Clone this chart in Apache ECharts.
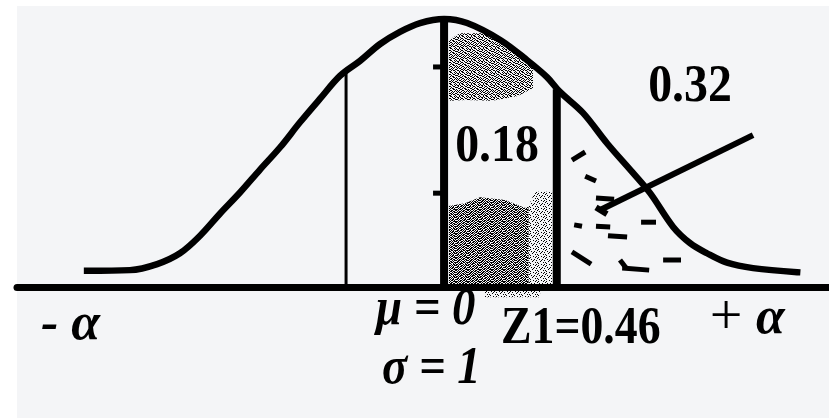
<!DOCTYPE html>
<html>
<head>
<meta charset="utf-8">
<script src="https://cdn.jsdelivr.net/npm/echarts@6/dist/echarts.min.js"></script>
<style>
  html, body { margin: 0; padding: 0; background: #ffffff; }
  #chart { width: 829px; height: 418px; }
</style>
</head>
<body>
<div id="chart"></div>
<script>
// Standard normal curve, traced as (z, height) pairs
const curveZ = [-1.457, -1.282, -1.171, -1.078, -0.996, -0.914, -0.833, -0.751, -0.669, -0.588,
                -0.506, -0.424, -0.343, -0.261, -0.180, -0.098, 0, 0.094, 0.229, 0.339,
                0.420, 0.473, 0.567, 0.665, 0.771, 0.841, 0.935, 1.004, 1.073, 1.155, 1.261, 1.441];
const curveH = [0.024, 0.025, 0.034, 0.050, 0.076, 0.109, 0.140, 0.174, 0.207, 0.244,
                0.279, 0.313, 0.335, 0.360, 0.378, 0.391, 0.397, 0.391, 0.366, 0.336,
                0.311, 0.289, 0.258, 0.213, 0.169, 0.139, 0.089, 0.065, 0.050, 0.036, 0.028, 0.022];

// Vertical markers: reference line, mean (mu = 0) and Z1 = 0.46
const markerZ   = [-0.40, 0, 0.46];
const markerTop = [0.317, 0.397, 0.293];

// Area labels
const areaLabels = ['0.18', '0.32'];

// Shaded patches (z, height) between the mean and Z1
const stippleTop = [[0.020, 0.366], [0.065, 0.376], [0.188, 0.376], [0.249, 0.360], [0.339, 0.335],
                    [0.363, 0.324], [0.363, 0.295], [0.302, 0.283], [0.196, 0.276], [0.090, 0.277], [0.020, 0.276]];
const stippleLow = [[0.020, 0.120], [0.086, 0.124], [0.147, 0.133], [0.249, 0.129], [0.331, 0.117],
                    [0.345, 0.120], [0.345, 0.004], [0.020, 0.004]];
const stippleLowRight = [[0.345, 0.120], [0.371, 0.141], [0.441, 0.141], [0.441, 0.004], [0.345, 0.004]];
const stippleUnder = [[0.167, -0.006], [0.392, -0.006], [0.392, -0.015], [0.167, -0.015]];

// Hatch strokes in the upper tail and the pointer from the 0.32 label
const tailMarks = [
  [0.522, 0.188, 0.576, 0.200],
  [0.576, 0.164, 0.620, 0.157],
  [0.620, 0.132, 0.694, 0.130],
  [0.531, 0.092, 0.563, 0.090],
  [0.620, 0.090, 0.678, 0.089],
  [0.669, 0.076, 0.747, 0.074],
  [0.804, 0.096, 0.865, 0.096],
  [0.522, 0.052, 0.600, 0.034],
  [0.718, 0.040, 0.743, 0.028],
  [0.727, 0.028, 0.837, 0.025],
  [0.894, 0.040, 0.967, 0.040],
  [-0.045, 0.326, -0.012, 0.326],
  [-0.045, 0.139, -0.012, 0.139]
];
const pointer = [[1.261, 0.225, 0.637, 0.114], [0.620, 0.118, 0.665, 0.108]];

// Dither textures for the shaded patches
const ditherDense = [
  '110110010110', '101001101011', '011011010100', '110100101101',
  '001011011010', '110110100111', '101001011001', '010110110110',
  '101101001011', '011010110100', '110101011011', '001011100101'
];
const ditherMid = [
  '100100110010', '011010001001', '001001100110', '110010010001',
  '001100101100', '100011000110', '010100110001', '101001001010',
  '010110010100', '100001101001', '011010010110', '000101100001'
];
const ditherLight = ['10000100', '00100001', '01000000', '00010010', '10000100', '00001000', '01000001', '00100000'];

function makeDither(rows) {
  const c = document.createElement('canvas');
  c.width = rows[0].length;
  c.height = rows.length;
  const g = c.getContext('2d');
  g.fillStyle = '#000';
  rows.forEach((r, y) => r.split('').forEach((ch, x) => { if (ch === '1') g.fillRect(x, y, 1, 1); }));
  return { image: c, repeat: 'repeat' };
}
const fillDense = makeDither(ditherDense);
const fillMid = makeDither(ditherMid);
const fillLight = makeDither(ditherLight);

function patchSeries(points, fill) {
  return {
    type: 'custom', coordinateSystem: 'cartesian2d', silent: true, clip: false, z: 2,
    data: [[points[0][0], points[0][1]]],
    renderItem: (params, api) => ({
      type: 'polygon',
      shape: { points: points.map(p => api.coord(p)) },
      style: { fill: fill, stroke: null }
    })
  };
}

function segmentSeries(segs, width) {
  return {
    type: 'custom', coordinateSystem: 'cartesian2d', silent: true, clip: false, z: 4,
    dimensions: ['x1', 'y1', 'x2', 'y2'],
    encode: { x: [0, 2], y: [1, 3] },
    data: segs,
    renderItem: (params, api) => {
      const a = api.coord([api.value(0), api.value(1)]);
      const b = api.coord([api.value(2), api.value(3)]);
      return {
        type: 'line',
        shape: { x1: a[0], y1: a[1], x2: b[0], y2: b[1] },
        style: { stroke: '#000', lineWidth: width, lineCap: 'butt' }
      };
    }
  };
}

const markerWidths = [3, 8, 8];
const markerSeries = markerZ.map((z, i) => ({
  type: 'line', silent: true, clip: false, z: 5,
  data: [[z, 0], [z, markerTop[i]]],
  showSymbol: false,
  lineStyle: { color: '#000', width: markerWidths[i], cap: 'butt' }
}));

const serif = '"Liberation Serif", "Times New Roman", serif';
function label(text, x, y, font, align, sx) {
  return {
    type: 'text', x: x, y: y, scaleX: sx || 1, z: 100, silent: true,
    style: { text: text, x: 0, y: 0, font: font, fill: '#000', align: align, verticalAlign: 'middle' }
  };
}

const chart = echarts.init(document.getElementById('chart'));
chart.setOption({
  animation: false,
  backgroundColor: '#ffffff',
  grid: { left: 17, right: 0, top: 17, bottom: 131 },
  xAxis: {
    type: 'value', min: -1.743, max: 1.571,
    axisLine: { show: true, lineStyle: { color: '#000', width: 7 } },
    axisTick: { show: false }, axisLabel: { show: false }, splitLine: { show: false }
  },
  yAxis: { type: 'value', min: 0, max: 0.4, show: false },
  graphic: [
    { type: 'rect', z: -100, silent: true, shape: { x: 17, y: 6, width: 812, height: 412 }, style: { fill: '#f4f5f7' } },
    label(areaLabels[1], 690, 88, 'bold 52px ' + serif, 'center', 0.92),
    label(areaLabels[0], 497, 148, 'bold 52px ' + serif, 'center', 0.92),
    label('Z1=0.46', 501, 330, 'bold 52px ' + serif, 'left', 0.88),
    label('\u03bc = 0', 376, 311, 'bold italic 52px ' + serif, 'left', 0.9),
    label('\u03c3 = 1', 382, 370, 'bold italic 52px ' + serif, 'left', 0.9),
    label('- \u03b1', 41, 326, 'bold italic 52px ' + serif, 'left', 1),
    label('+', 726, 319, '58px ' + serif, 'center', 1),
    label('\u03b1', 756, 320, 'bold italic 52px ' + serif, 'left', 1)
  ],
  series: [
    patchSeries(stippleTop, fillMid),
    patchSeries(stippleLow, fillDense),
    patchSeries(stippleLowRight, fillLight),
    patchSeries(stippleUnder, fillLight),
    {
      type: 'line', silent: true, clip: false, z: 6,
      data: curveZ.map((z, i) => [z, curveH[i]]),
      smooth: 0.35, showSymbol: false,
      lineStyle: { color: '#000', width: 6.5, cap: 'square' }
    },
    ...markerSeries,
    segmentSeries(tailMarks, 5),
    segmentSeries(pointer, 6)
  ]
});
</script>
</body>
</html>
